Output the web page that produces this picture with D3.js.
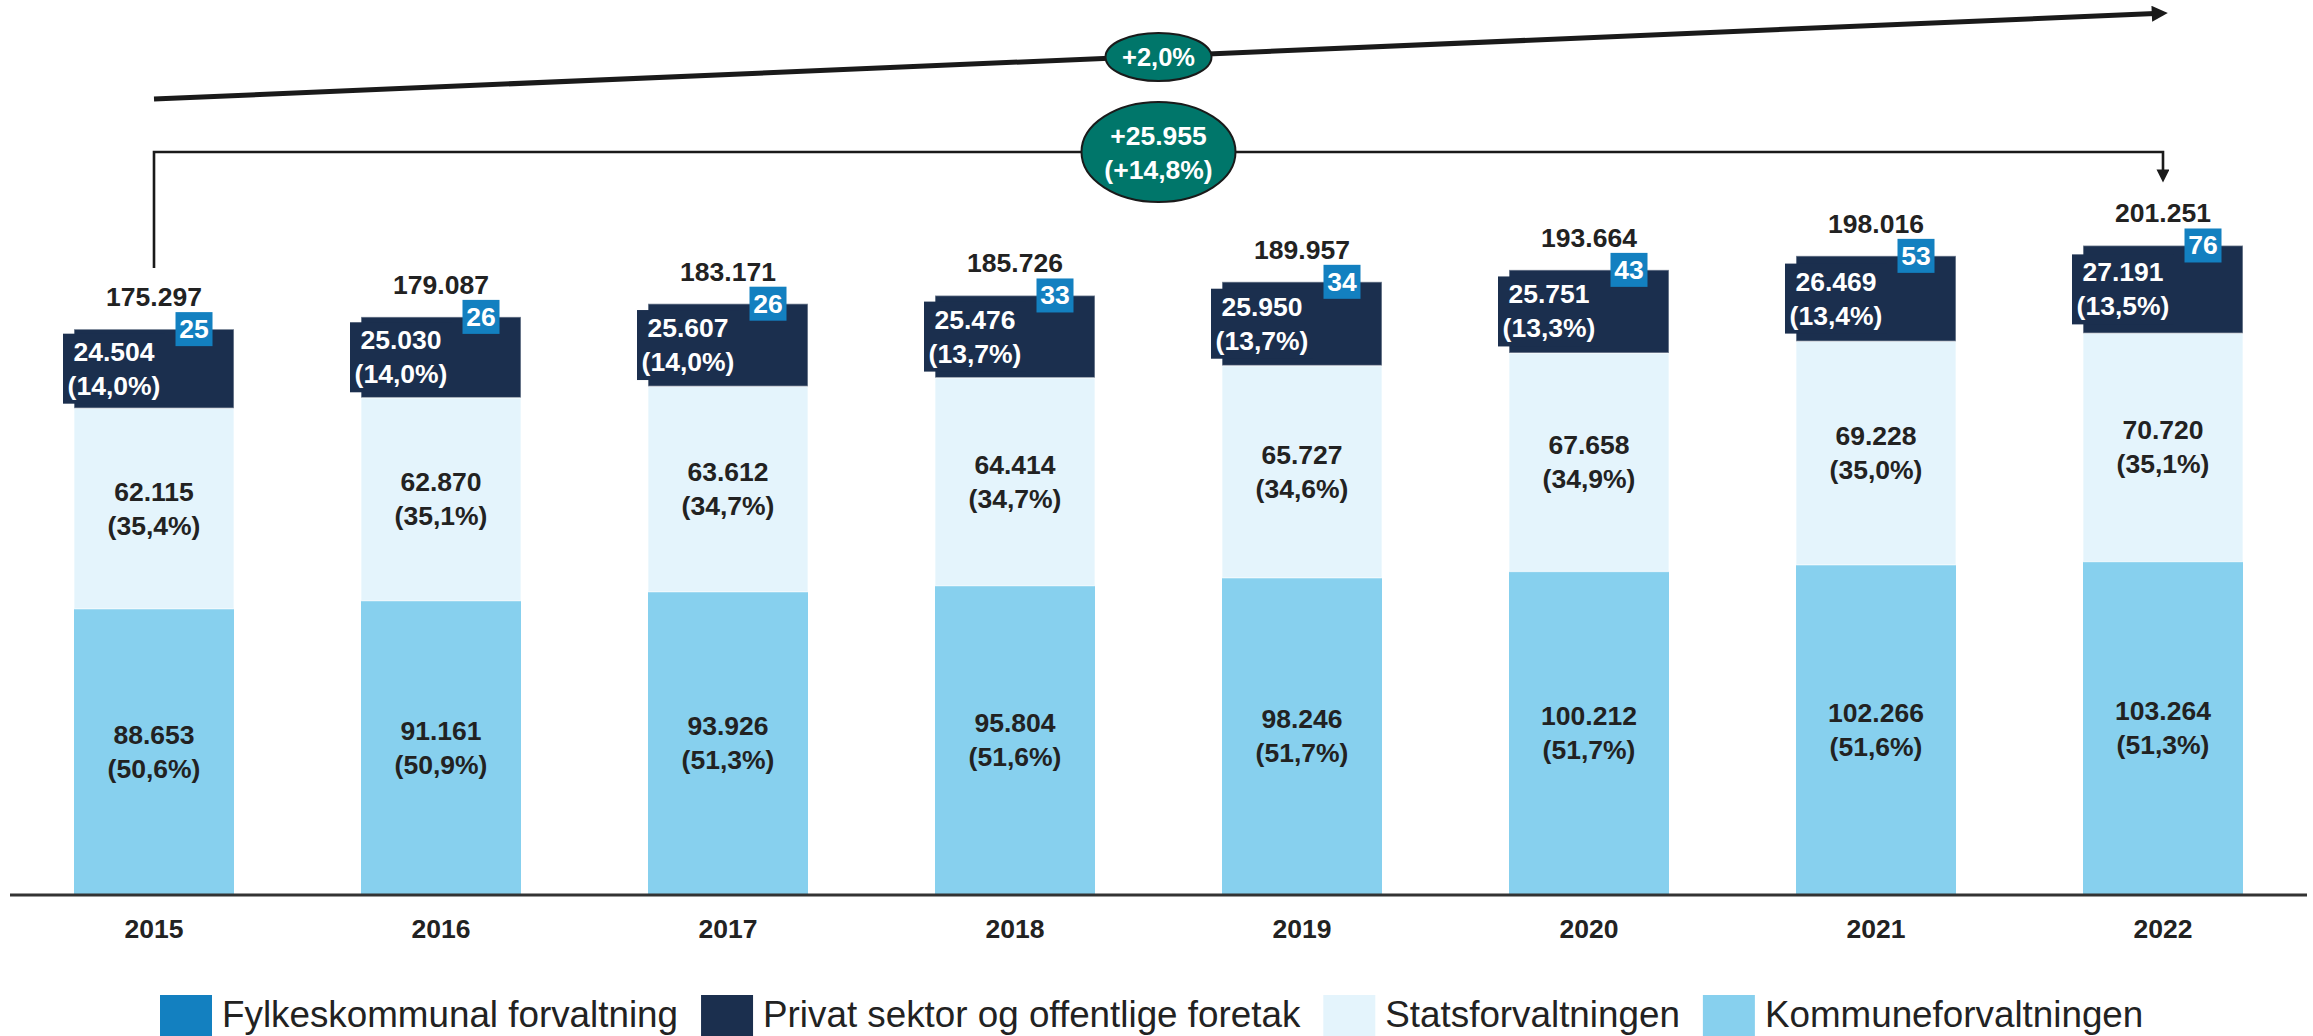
<!DOCTYPE html>
<html>
<head>
<meta charset="utf-8">
<script src="https://cdn.jsdelivr.net/npm/d3@7"></script>
<style>
  html, body { margin: 0; padding: 0; background: #fff; }
  svg { display: block; font-family: 'Liberation Sans', Arial, sans-serif; }
</style>
</head>
<body>
<svg id="chart" width="2313" height="1036"></svg>
<script>
const years = ['2015', '2016', '2017', '2018', '2019', '2020', '2021', '2022'];
const kommune = [88653, 91161, 93926, 95804, 98246, 100212, 102266, 103264];
const stat = [62115, 62870, 63612, 64414, 65727, 67658, 69228, 70720];
const privat = [24504, 25030, 25607, 25476, 25950, 25751, 26469, 27191];
const fylke = [25, 26, 26, 33, 34, 43, 53, 76];
const totals = [175297, 179087, 183171, 185726, 189957, 193664, 198016, 201251];

const legendLabels = [
  { key: 'fylke', label: 'Fylkeskommunal forvaltning' },
  { key: 'privat', label: 'Privat sektor og offentlige foretak' },
  { key: 'stat', label: 'Statsforvaltningen' },
  { key: 'kommune', label: 'Kommuneforvaltningen' },
];

const growthLabel = '+2,0%';
const changeLabels = ['+25.955', '(+14,8%)'];

const colors = {
  kommune: '#87d0ee',
  stat: '#e4f4fc',
  privat: '#1b2f4e',
  fylke: '#1380c0',
  green: '#00766a',
  text: '#222222',
};

const LABEL_SIZE = 26.5;

const fmtNum = (v) => d3.format(',')(v).replace(/,/g, '.');
const fmtPct = (v) => '(' + d3.format('.1f')(v * 100).replace('.', ',') + '%)';

const svg = d3.select('#chart');

const x = d3.scaleBand()
  .domain(years)
  .range([10, 2307])
  .paddingInner(0.4425)
  .paddingOuter(0.223);

const y = d3.scaleLinear().domain([0, 210000]).range([895, 217]);

const rows = years.map((yr, i) => ({
  year: yr,
  kommune: kommune[i],
  stat: stat[i],
  privat: privat[i],
  fylke: fylke[i],
  total: totals[i],
}));

const stack = d3.stack().keys(['kommune', 'stat', 'privat', 'fylke'])(rows);

const bw = x.bandwidth();
const g = svg.append('g');

// stacked bars (fylke values are too small to show as height)
['kommune', 'stat', 'privat'].forEach((key) => {
  const layer = stack.find((s) => s.key === key);
  g.selectAll('rect.' + key)
    .data(layer)
    .enter()
    .append('rect')
    .attr('class', key)
    .attr('x', (d) => x(d.data.year))
    .attr('y', (d) => y(d[1]))
    .attr('width', bw)
    .attr('height', (d) => y(d[0]) - y(d[1]))
    .attr('fill', colors[key])
    .attr('stroke', key === 'kommune' ? 'none' : 'rgba(255,255,255,0.45)')
    .attr('stroke-width', 1.5);
});

// segment labels
const mid = (lo, hi) => (y(lo) + y(hi)) / 2;
const twoLine = (sel, cx, cy, l1, l2, fill) => {
  const t = sel.append('text')
    .attr('text-anchor', 'middle')
    .attr('font-weight', 'bold')
    .attr('font-size', LABEL_SIZE)
    .attr('fill', fill);
  t.append('tspan').attr('x', cx).attr('y', cy - 8).text(l1);
  t.append('tspan').attr('x', cx).attr('y', cy + 26).text(l2);
};

rows.forEach((r) => {
  const cx = x(r.year) + bw / 2;
  twoLine(g, cx, mid(0, r.kommune), fmtNum(r.kommune), fmtPct(r.kommune / r.total), colors.text);
  twoLine(g, cx, mid(r.kommune, r.kommune + r.stat), fmtNum(r.stat), fmtPct(r.stat / r.total), colors.text);

  const pLo = r.kommune + r.stat;
  const pc = mid(pLo, pLo + r.privat);
  g.append('rect')
    .attr('x', x(r.year) - 11)
    .attr('y', pc - 35)
    .attr('width', 102)
    .attr('height', 70)
    .attr('fill', colors.privat);
  twoLine(g, cx - 40, pc, fmtNum(r.privat), fmtPct(r.privat / r.total), '#ffffff');

  const top = y(pLo + r.privat);
  g.append('rect')
    .attr('x', cx + 40 - 18.5)
    .attr('y', top - 17)
    .attr('width', 37)
    .attr('height', 34)
    .attr('fill', colors.fylke);
  g.append('text')
    .attr('x', cx + 40)
    .attr('y', top + 9)
    .attr('text-anchor', 'middle')
    .attr('font-weight', 'bold')
    .attr('font-size', LABEL_SIZE)
    .attr('fill', '#ffffff')
    .text(r.fylke);

  g.append('text')
    .attr('x', cx)
    .attr('y', top - 23)
    .attr('text-anchor', 'middle')
    .attr('font-weight', 'bold')
    .attr('font-size', LABEL_SIZE)
    .attr('fill', colors.text)
    .text(fmtNum(r.total));
});

// x axis
const xAxis = svg.append('g')
  .attr('transform', 'translate(0,895)')
  .call(d3.axisBottom(x).tickSize(0).tickPadding(24));
xAxis.select('.domain').attr('stroke', '#333').attr('stroke-width', 3).attr('d', 'M10,0H2307');
xAxis.selectAll('text')
  .attr('font-family', "'Liberation Sans', Arial, sans-serif")
  .attr('font-weight', 'bold')
  .attr('font-size', LABEL_SIZE)
  .attr('fill', colors.text);

// annotations
const x0 = x(years[0]) + bw / 2;
const x1 = x(years[years.length - 1]) + bw / 2;
const xm = (x0 + x1) / 2;

const defs = svg.append('defs');
defs.append('marker')
  .attr('id', 'bigHead')
  .attr('viewBox', '0 0 10 10')
  .attr('refX', 2).attr('refY', 5)
  .attr('markerWidth', 3.6).attr('markerHeight', 3.2)
  .attr('orient', 'auto')
  .append('path').attr('d', 'M0,0L10,5L0,10Z').attr('fill', '#1a1a1a');
defs.append('marker')
  .attr('id', 'smallHead')
  .attr('viewBox', '0 0 10 10')
  .attr('refX', 2).attr('refY', 5)
  .attr('markerWidth', 6).attr('markerHeight', 5)
  .attr('orient', 'auto')
  .append('path').attr('d', 'M0,0L10,5L0,10Z').attr('fill', '#1a1a1a');

svg.append('line')
  .attr('x1', x0).attr('y1', 99)
  .attr('x2', x1 - 8).attr('y2', 13.5)
  .attr('stroke', '#1a1a1a')
  .attr('stroke-width', 5)
  .attr('marker-end', 'url(#bigHead)');

svg.append('path')
  .attr('d', `M${x0},268V152H${x1}V172`)
  .attr('fill', 'none')
  .attr('stroke', '#1a1a1a')
  .attr('stroke-width', 2.6)
  .attr('marker-end', 'url(#smallHead)');

svg.append('ellipse')
  .attr('cx', xm).attr('cy', 57)
  .attr('rx', 53).attr('ry', 24)
  .attr('fill', colors.green)
  .attr('stroke', '#1a1a1a').attr('stroke-width', 2);
svg.append('text')
  .attr('x', xm).attr('y', 66)
  .attr('text-anchor', 'middle')
  .attr('font-weight', 'bold').attr('font-size', 25.5)
  .attr('fill', '#fff')
  .text(growthLabel);

svg.append('ellipse')
  .attr('cx', xm).attr('cy', 152)
  .attr('rx', 77).attr('ry', 50)
  .attr('fill', colors.green)
  .attr('stroke', '#1a1a1a').attr('stroke-width', 2);
twoLine(svg, xm, 153, changeLabels[0], changeLabels[1], '#ffffff');

// legend
const legend = svg.append('g').attr('transform', 'translate(160,995)');
let lx = 0;
legendLabels.forEach((d) => {
  legend.append('rect')
    .attr('x', lx).attr('y', 0)
    .attr('width', 52).attr('height', 42)
    .attr('fill', colors[d.key]);
  const t = legend.append('text')
    .attr('x', lx + 62).attr('y', 32)
    .attr('font-size', 36.8)
    .attr('fill', colors.text)
    .text(d.label);
  lx += 62 + t.node().getComputedTextLength() + 23;
});
</script>
</body>
</html>
